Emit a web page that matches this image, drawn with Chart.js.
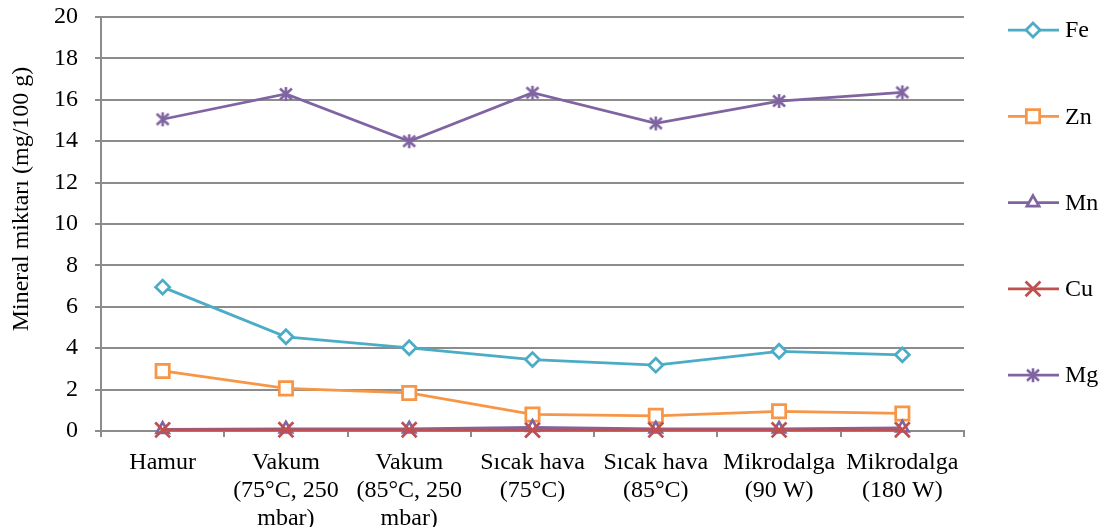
<!DOCTYPE html>
<html>
<head>
<meta charset="utf-8">
<script src="https://cdn.jsdelivr.net/npm/chart.js@4/dist/chart.umd.min.js"></script>
<style>
  body { margin: 0; background: #fff; }
  #wrap { width: 1114px; height: 527px; position: relative; }
</style>
</head>
<body>
<div id="wrap"><canvas id="myChart"></canvas></div>
<script>
const categories = [
  'Hamur',
  ['Vakum', '(75°C, 250', 'mbar)'],
  ['Vakum', '(85°C, 250', 'mbar)'],
  ['Sıcak hava', '(75°C)'],
  ['Sıcak hava', '(85°C)'],
  ['Mikrodalga', '(90 W)'],
  ['Mikrodalga', '(180 W)']
]
const seriesNames = ['Fe', 'Zn', 'Mn', 'Cu', 'Mg']
const fe = [6.95, 4.55, 4.02, 3.45, 3.18, 3.85, 3.68]
const zn = [2.9, 2.06, 1.84, 0.8, 0.73, 0.95, 0.85]
const mn = [0.08, 0.1, 0.1, 0.18, 0.1, 0.1, 0.15]
const cu = [0.05, 0.06, 0.06, 0.04, 0.05, 0.05, 0.06]
const mg = [15.06, 16.28, 14.0, 16.34, 14.86, 15.94, 16.36]
const yMin = 0, yMax = 20, yStep = 2
const yTitle = 'Mineral miktarı (mg/100 g)'

const FONT = '"Liberation Serif", "Times New Roman", serif'
const gridColor = '#8c8c8c'

// asterisk marker for Mg (X with a vertical bar)
function makeStar(color) {
  const c = document.createElement('canvas')
  c.width = 16; c.height = 16
  const g = c.getContext('2d')
  g.strokeStyle = color
  g.lineWidth = 2.6
  g.beginPath()
  g.moveTo(2, 2.5); g.lineTo(14, 13.5)
  g.moveTo(14, 2.5); g.lineTo(2, 13.5)
  g.moveTo(8, 1); g.lineTo(8, 15)
  g.stroke()
  return c
}

const styles = [
  { color: '#4bacc6', point: 'rectRot', r: 7 },
  { color: '#f79646', point: 'rect', r: 9.4 },
  { color: '#8064a2', point: 'triangle', r: 7 },
  { color: '#c0504d', point: 'crossRot', r: 10.5 },
  { color: '#8064a2', point: makeStar('#8064a2'), r: 7 }
]
const values = [fe, zn, mn, cu, mg]

const datasets = values.map((vals, i) => ({
  label: seriesNames[i],
  data: vals,
  borderColor: styles[i].color,
  backgroundColor: '#ffffff',
  borderWidth: 2.75,
  pointStyle: styles[i].point,
  pointRadius: styles[i].r,
  pointHoverRadius: styles[i].r,
  pointBorderColor: styles[i].color,
  pointBackgroundColor: '#ffffff',
  pointBorderWidth: 2.75,
  tension: 0,
  clip: false,
  order: values.length - i
}))

const sidePlugin = {
  id: 'side',
  afterDraw(chart) {
    const ctx = chart.ctx
    ctx.save()
    ctx.font = '24px ' + FONT
    ctx.fillStyle = '#000'
    ctx.translate(22, 199)
    ctx.rotate(-Math.PI / 2)
    ctx.textAlign = 'center'
    ctx.textBaseline = 'middle'
    ctx.fillText(yTitle, 0, 0)
    ctx.restore()

    chart.data.datasets.forEach((ds, i) => {
      const y = 30 + i * 86.3
      ctx.save()
      ctx.strokeStyle = ds.borderColor
      ctx.lineWidth = 2.75
      ctx.beginPath()
      ctx.moveTo(1008, y)
      ctx.lineTo(1059, y)
      ctx.stroke()
      ctx.fillStyle = '#fff'
      ctx.strokeStyle = ds.pointBorderColor
      ctx.lineWidth = ds.pointBorderWidth
      Chart.helpers.drawPoint(ctx, {
        pointStyle: ds.pointStyle,
        radius: ds.pointRadius,
        rotation: 0,
        borderWidth: ds.pointBorderWidth
      }, 1033, y)
      ctx.fillStyle = '#000'
      ctx.font = '24px ' + FONT
      ctx.textAlign = 'left'
      ctx.textBaseline = 'middle'
      ctx.fillText(ds.label, 1065, y + 1)
      ctx.restore()
    })
  }
}

new Chart(document.getElementById('myChart').getContext('2d'), {
  type: 'line',
  data: { labels: categories, datasets: datasets },
  options: {
    responsive: true,
    maintainAspectRatio: false,
    animation: false,
    layout: { autoPadding: false, padding: { top: 17, right: 150, left: 0, bottom: 0 } },
    plugins: {
      legend: { display: false },
      tooltip: { enabled: false }
    },
    scales: {
      x: {
        offset: true,
        afterFit: s => { s.height = 96; s.paddingLeft = 0; s.paddingRight = 0 },
        grid: {
          offset: true,
          drawOnChartArea: false,
          drawTicks: true,
          tickLength: 6,
          color: gridColor,
          lineWidth: 2
        },
        border: { color: gridColor, width: 2 },
        ticks: {
          color: '#000',
          font: { family: FONT, size: 24, lineHeight: 1.16 },
          maxRotation: 0,
          minRotation: 0,
          autoSkip: false,
          padding: 12
        }
      },
      y: {
        min: yMin,
        max: yMax,
        afterFit: s => { s.width = 101; s.paddingTop = 0; s.paddingBottom = 0 },
        grid: {
          color: gridColor,
          lineWidth: 2,
          tickLength: 6
        },
        border: { color: gridColor, width: 2 },
        ticks: {
          stepSize: yStep,
          color: '#000',
          font: { family: FONT, size: 24 },
          padding: 17
        }
      }
    }
  },
  plugins: [sidePlugin]
})
</script>
</body>
</html>
